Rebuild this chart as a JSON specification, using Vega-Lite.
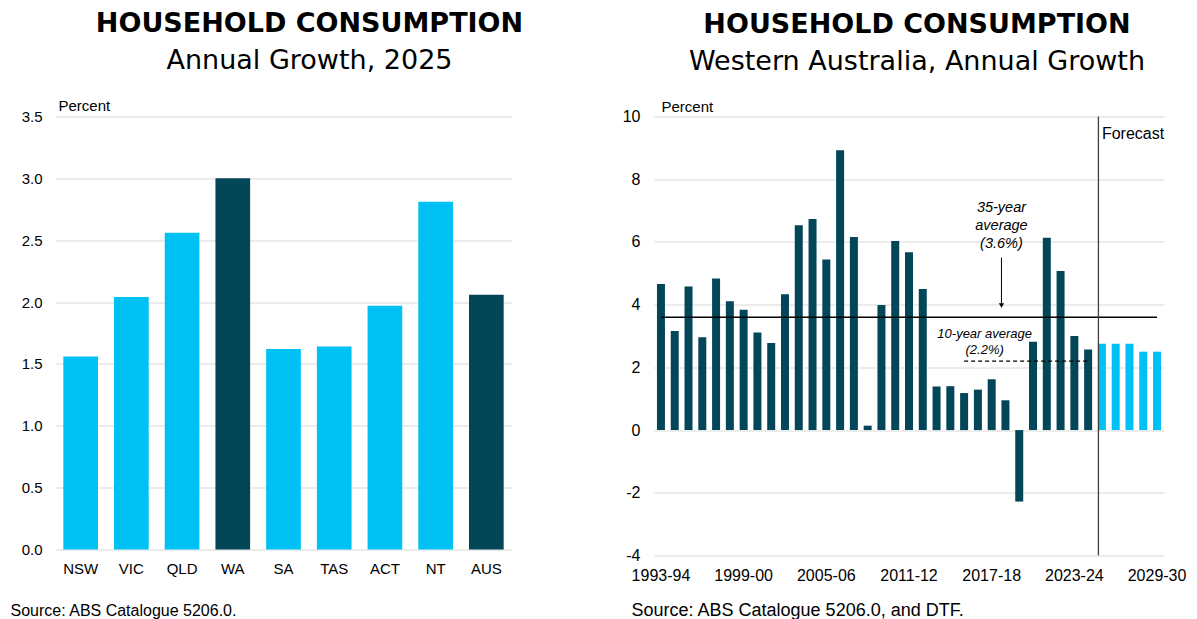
{
  "$schema": "https://vega.github.io/schema/vega-lite/v6.json",
  "background": "white",
  "padding": {"left": 10, "top": 9.5, "right": 0, "bottom": 0},
  "bounds": "flush",
  "spacing": 142,
  "resolve": {"scale": {"color": "independent"}},
  "config": {
    "font": "Liberation Sans",
    "view": {"stroke": null},
    "axis": {
      "labelFont": "Liberation Sans",
      "titleFont": "Liberation Sans",
      "labelColor": "#000",
      "titleColor": "#000",
      "domain": false,
      "ticks": false,
      "gridColor": "#d9d9d9",
      "gridWidth": 1,
      "titleFontWeight": "normal"
    },
    "title": {
      "font": "DejaVu Sans",
      "subtitleFont": "DejaVu Sans",
      "fontSize": 27,
      "fontWeight": "bold",
      "color": "#000",
      "subtitleFontSize": 27,
      "subtitleColor": "#000",
      "subtitlePadding": 10,
      "anchor": "middle",
      "frame": "group",
      "offset": 24
    }
  },
  "hconcat": [
    {
      "width": 457,
      "height": 433,
      "title": {"text": "HOUSEHOLD CONSUMPTION", "subtitle": "Annual Growth, 2025", "dx": 26},
      "data": {
        "values": [
          {"state": "NSW", "value": 1.56, "group": "state"},
          {"state": "VIC", "value": 2.04, "group": "state"},
          {"state": "QLD", "value": 2.56, "group": "state"},
          {"state": "WA", "value": 3.0, "group": "highlight"},
          {"state": "SA", "value": 1.62, "group": "state"},
          {"state": "TAS", "value": 1.64, "group": "state"},
          {"state": "ACT", "value": 1.97, "group": "state"},
          {"state": "NT", "value": 2.81, "group": "state"},
          {"state": "AUS", "value": 2.06, "group": "highlight"}
        ]
      },
      "mark": {"type": "bar"},
      "encoding": {
        "x": {
          "field": "state",
          "type": "nominal",
          "sort": null,
          "scale": {"paddingInner": 0.316, "paddingOuter": 0.164},
          "axis": {
            "labelAngle": 0,
            "labelFontSize": 15,
            "labelPadding": 12,
            "grid": false,
            "title": "Source: ABS Catalogue 5206.0.",
            "titleFontSize": 16,
            "titleAnchor": "start",
            "titleAlign": "left",
            "titleBaseline": "alphabetic",
            "titleX": -45,
            "titleY": 66
          }
        },
        "y": {
          "field": "value",
          "type": "quantitative",
          "scale": {"domain": [0, 3.5]},
          "axis": {
            "values": [0, 0.5, 1, 1.5, 2, 2.5, 3, 3.5],
            "format": ".1f",
            "labelFontSize": 15,
            "labelPadding": 13,
            "title": "Percent",
            "titleFontSize": 15,
            "titleAngle": 0,
            "titleAlign": "left",
            "titleBaseline": "alphabetic",
            "titleX": 3,
            "titleY": -6
          }
        },
        "color": {
          "field": "group",
          "type": "nominal",
          "scale": {"domain": ["state", "highlight"], "range": ["#00C1F3", "#034658"]},
          "legend": null
        }
      }
    },
    {
      "width": 510,
      "height": 439,
      "title": {"text": "HOUSEHOLD CONSUMPTION", "subtitle": "Western Australia, Annual Growth", "dx": 8},
      "data": {
        "values": [
          {"year": "1993-94", "value": 4.66, "type": "Actual"},
          {"year": "1994-95", "value": 3.16, "type": "Actual"},
          {"year": "1995-96", "value": 4.58, "type": "Actual"},
          {"year": "1996-97", "value": 2.96, "type": "Actual"},
          {"year": "1997-98", "value": 4.83, "type": "Actual"},
          {"year": "1998-99", "value": 4.11, "type": "Actual"},
          {"year": "1999-00", "value": 3.84, "type": "Actual"},
          {"year": "2000-01", "value": 3.11, "type": "Actual"},
          {"year": "2001-02", "value": 2.78, "type": "Actual"},
          {"year": "2002-03", "value": 4.33, "type": "Actual"},
          {"year": "2003-04", "value": 6.53, "type": "Actual"},
          {"year": "2004-05", "value": 6.73, "type": "Actual"},
          {"year": "2005-06", "value": 5.44, "type": "Actual"},
          {"year": "2006-07", "value": 8.92, "type": "Actual"},
          {"year": "2007-08", "value": 6.16, "type": "Actual"},
          {"year": "2008-09", "value": 0.14, "type": "Actual"},
          {"year": "2009-10", "value": 3.99, "type": "Actual"},
          {"year": "2010-11", "value": 6.03, "type": "Actual"},
          {"year": "2011-12", "value": 5.67, "type": "Actual"},
          {"year": "2012-13", "value": 4.5, "type": "Actual"},
          {"year": "2013-14", "value": 1.39, "type": "Actual"},
          {"year": "2014-15", "value": 1.4, "type": "Actual"},
          {"year": "2015-16", "value": 1.18, "type": "Actual"},
          {"year": "2016-17", "value": 1.29, "type": "Actual"},
          {"year": "2017-18", "value": 1.62, "type": "Actual"},
          {"year": "2018-19", "value": 0.95, "type": "Actual"},
          {"year": "2019-20", "value": -2.28, "type": "Actual"},
          {"year": "2020-21", "value": 2.82, "type": "Actual"},
          {"year": "2021-22", "value": 6.13, "type": "Actual"},
          {"year": "2022-23", "value": 5.07, "type": "Actual"},
          {"year": "2023-24", "value": 3.0, "type": "Actual"},
          {"year": "2024-25", "value": 2.57, "type": "Actual"},
          {"year": "2025-26", "value": 2.75, "type": "Forecast"},
          {"year": "2026-27", "value": 2.75, "type": "Forecast"},
          {"year": "2027-28", "value": 2.75, "type": "Forecast"},
          {"year": "2028-29", "value": 2.5, "type": "Forecast"},
          {"year": "2029-30", "value": 2.5, "type": "Forecast"}
        ]
      },
      "encoding": {
        "x": {
          "field": "year",
          "type": "ordinal",
          "sort": null,
          "scale": {"paddingInner": 0.42, "paddingOuter": 0.215},
          "axis": {
            "values": ["1993-94", "1999-00", "2005-06", "2011-12", "2017-18", "2023-24", "2029-30"],
            "labelAngle": 0,
            "labelFontSize": 16,
            "labelPadding": 12,
            "grid": false,
            "title": "Source: ABS Catalogue 5206.0, and DTF.",
            "titleFontSize": 18,
            "titleAnchor": "start",
            "titleAlign": "left",
            "titleBaseline": "alphabetic",
            "titleX": -23,
            "titleY": 60
          }
        }
      },
      "layer": [
        {
          "mark": {"type": "bar"},
          "encoding": {
            "y": {
              "field": "value",
              "type": "quantitative",
              "scale": {"domain": [-4, 10]},
              "axis": {
                "values": [-4, -2, 0, 2, 4, 6, 8, 10],
                "labelExpr": "'' + datum.value",
                "labelFontSize": 16,
                "labelPadding": 14,
                "title": "Percent",
                "titleFontSize": 15,
                "titleAngle": 0,
                "titleAlign": "left",
                "titleBaseline": "alphabetic",
                "titleX": 7,
                "titleY": -5
              }
            },
            "color": {
              "field": "type",
              "type": "nominal",
              "scale": {"domain": ["Actual", "Forecast"], "range": ["#034658", "#00C1F3"]},
              "legend": null
            }
          }
        },
        {
          "data": {"values": [{}]},
          "mark": {"type": "rule", "color": "#000", "strokeWidth": 1.5},
          "encoding": {
            "x": {"datum": "1993-94", "type": "ordinal"},
            "x2": {"datum": "2029-30"},
            "y": {"datum": 3.6, "type": "quantitative"}
          }
        },
        {
          "data": {"values": [{}]},
          "mark": {"type": "rule", "color": "#000", "strokeWidth": 1.2, "strokeDash": [4, 3]},
          "encoding": {
            "x": {"datum": "2015-16", "type": "ordinal"},
            "x2": {"datum": "2024-25"},
            "y": {"datum": 2.2, "type": "quantitative"}
          }
        },
        {
          "data": {"values": [{}]},
          "mark": {"type": "rule", "color": "#404040", "strokeWidth": 1.3, "xOffset": -3.5},
          "encoding": {
            "x": {"datum": "2025-26", "type": "ordinal"}
          }
        },
        {
          "data": {"values": [{}]},
          "mark": {"type": "rule", "color": "#000", "strokeWidth": 1, "xOffset": -4},
          "encoding": {
            "x": {"datum": "2018-19", "type": "ordinal"},
            "y": {"datum": 5.5, "type": "quantitative"},
            "y2": {"datum": 3.98}
          }
        },
        {
          "data": {"values": [{}]},
          "mark": {"type": "point", "shape": "triangle-down", "filled": true, "color": "#000", "size": 28, "opacity": 1, "xOffset": -4},
          "encoding": {
            "x": {"datum": "2018-19", "type": "ordinal"},
            "y": {"datum": 3.97, "type": "quantitative"}
          }
        },
        {
          "data": {"values": [{}]},
          "mark": {"type": "text", "text": ["35-year", "average", "(3.6%)"], "fontStyle": "italic", "fontSize": 14.5, "lineHeight": 18, "align": "center", "baseline": "middle", "color": "#000", "xOffset": -4},
          "encoding": {
            "x": {"datum": "2018-19", "type": "ordinal"},
            "y": {"datum": 7.07, "type": "quantitative"}
          }
        },
        {
          "data": {"values": [{}]},
          "mark": {"type": "text", "text": ["10-year average", "(2.2%)"], "fontStyle": "italic", "fontSize": 13, "lineHeight": 16, "align": "center", "baseline": "middle", "color": "#000", "xOffset": -7},
          "encoding": {
            "x": {"datum": "2017-18", "type": "ordinal"},
            "y": {"datum": 3.07, "type": "quantitative"}
          }
        },
        {
          "data": {"values": [{}]},
          "mark": {"type": "text", "text": "Forecast", "fontSize": 16, "align": "left", "baseline": "middle", "color": "#000", "xOffset": 0},
          "encoding": {
            "x": {"datum": "2025-26", "type": "ordinal"},
            "y": {"datum": 9.43, "type": "quantitative"}
          }
        }
      ]
    }
  ]
}
